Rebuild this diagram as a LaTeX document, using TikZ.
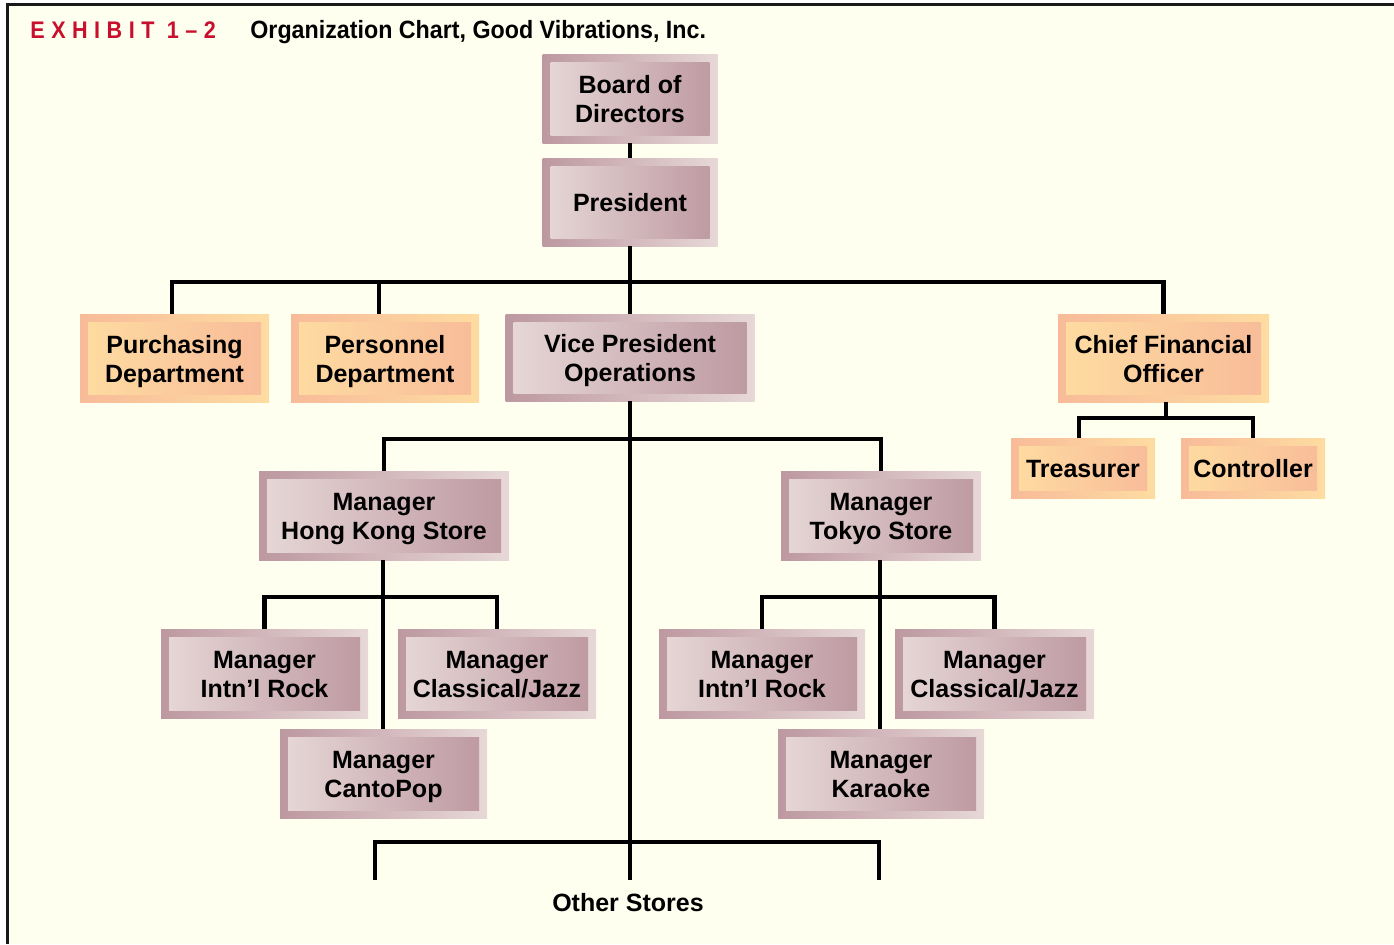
\documentclass[tikz,border=0pt]{standalone}
\usepackage{fontspec}
\setmainfont{Liberation Sans}
\newfontfamily\titlefont{Liberation Sans}[FakeStretch=0.93]
\newfontfamily\exhibitfont{Liberation Sans}[FakeStretch=0.9,LetterSpace=27]
\usetikzlibrary{calc}

\definecolor{paper}{RGB}{255,255,240}
\definecolor{mauveD}{RGB}{189,152,161}
\definecolor{mauveL}{RGB}{231,216,215}
\definecolor{peachD}{RGB}{248,187,153}
\definecolor{peachL}{RGB}{254,220,161}
\definecolor{exred}{RGB}{200,16,46}

\tikzset{
  x=0.5pt, y=-0.5pt,
  box/.style={inner sep=0pt, align=center, text depth=0pt, text height=9pt,
    font=\fontsize{12.5}{14.5}\selectfont\bfseries},
  twoline/.style={text height=24pt},
  mauvebox/.style={box, left color=mauveD, right color=mauveL,
    path picture={\shade[left color=mauveL, right color=mauveD]
      ([shift={(4pt,-4pt)}]path picture bounding box.north west) rectangle
      ([shift={(-4pt,4pt)}]path picture bounding box.south east);}},
  peachbox/.style={box, left color=peachD, right color=peachL,
    path picture={\shade[left color=peachL, right color=peachD]
      ([shift={(4pt,-4pt)}]path picture bounding box.north west) rectangle
      ([shift={(-4pt,4pt)}]path picture bounding box.south east);}},
  conn/.style={line width=2.3pt, line join=miter},
  label/.style={anchor=base west, inner sep=0pt}
}

\begin{document}
\begin{tikzpicture}
\useasboundingbox (0,0) rectangle (1394,944);

% page and frame
\fill[white] (0,0) rectangle (1394,944);
\fill[paper] (7.5,4.7) rectangle (1394,944);
\draw[line width=1.5pt, black!90] (7.5,944) -- (7.5,4.7) -- (1394,4.7);

% heading
\node[label, text=exred, font=\exhibitfont\fontsize{12}{14}\selectfont\bfseries]
  (exh) at (30,38.5) {EXHIBIT 1–2};
\node[label, font=\titlefont\fontsize{12.5}{15}\selectfont\bfseries]
  (ttl) at (250,38.5) {Organization Chart, Good Vibrations, Inc.};

% top management
\node[mauvebox, twoline, minimum width=87.5pt, minimum height=44.5pt] (board) at (630,98.5) {Board of\\Directors};
\node[mauvebox, minimum width=87.5pt, minimum height=44pt] (pres) at (630,202) {President};

% second level
\node[peachbox, twoline, minimum width=94.5pt, minimum height=44pt] (purch) at (174.5,358) {Purchasing\\Department};
\node[peachbox, twoline, minimum width=94pt, minimum height=44pt] (pers) at (385,358) {Personnel\\Department};
\node[mauvebox, twoline, minimum width=124.5pt, minimum height=43.5pt] (vp) at (630,357.5) {Vice President\\Operations};
\node[peachbox, twoline, minimum width=105.5pt, minimum height=44pt] (cfo) at (1163.5,358) {Chief Financial\\Officer};

% finance
\node[peachbox, minimum width=72pt, minimum height=30pt] (treas) at (1083,468) {Treasurer};
\node[peachbox, minimum width=72pt, minimum height=30pt] (ctrl) at (1253,468) {Controller};

% stores
\node[mauvebox, twoline, minimum width=125pt, minimum height=44.5pt] (hk) at (384,515.5) {Manager\\Hong Kong Store};
\node[mauvebox, twoline, minimum width=100pt, minimum height=44.5pt] (tk) at (881,515.5) {Manager\\Tokyo Store};

% Hong Kong departments
\node[mauvebox, twoline, minimum width=103.5pt, minimum height=44.5pt] (hkrock) at (264.5,673.5) {Manager\\Intn’l Rock};
\node[mauvebox, twoline, minimum width=99pt, minimum height=44.5pt] (hkclass) at (497,673.5) {Manager\\Classical/Jazz};
\node[mauvebox, twoline, minimum width=103.5pt, minimum height=44.5pt] (canto) at (383.5,773.5) {Manager\\CantoPop};

% Tokyo departments
\node[mauvebox, twoline, minimum width=103pt, minimum height=44.5pt] (tkrock) at (762,673.5) {Manager\\Intn’l Rock};
\node[mauvebox, twoline, minimum width=99.5pt, minimum height=44.5pt] (tkclass) at (994.5,673.5) {Manager\\Classical/Jazz};
\node[mauvebox, twoline, minimum width=103pt, minimum height=44.5pt] (karaoke) at (881,773.5) {Manager\\Karaoke};

\node[box] (others) at (628,902) {Other Stores};

% junction points
\coordinate (busTop) at (630,282);
\coordinate (purchTop) at ([xshift=-1.25pt]purch.north);
\coordinate (persTop) at ([xshift=-3pt]pers.north);
\coordinate (cfoBus) at (1166,418);
\coordinate (treasTop) at ([xshift=-2pt]treas.north);
\coordinate (vpBus) at (630,439);
\coordinate (hkBus) at (383,597);
\coordinate (tkBus) at (880,597);
\coordinate (osBus) at (630,842);
\coordinate (osL) at (375,880);
\coordinate (osM) at (630,880);
\coordinate (osR) at (879,880);

% connectors
\draw[conn] (board.south) -- (pres.north);
\draw[conn] (pres.south) -- (vp.north);
\draw[conn] (purchTop) |- (busTop) -| (cfo.north);
\draw[conn] (persTop) -- (persTop |- busTop);
\draw[conn] (cfo.south -| cfoBus) -- (cfoBus);
\draw[conn] (treasTop) |- (cfoBus) -| (ctrl.north);
\draw[conn] (vp.south) -- (osM);
\draw[conn] (hk.north) |- (vpBus) -| (tk.north);
\draw[conn] (hk.south -| hkBus) -- (canto.north -| hkBus);
\draw[conn] (hkrock.north) |- (hkBus) -| (hkclass.north);
\draw[conn] (tk.south -| tkBus) -- (karaoke.north -| tkBus);
\draw[conn] (tkrock.north) |- (tkBus) -| (tkclass.north);
\draw[conn] (osL) |- (osBus) -| (osR);
\end{tikzpicture}
\end{document}
